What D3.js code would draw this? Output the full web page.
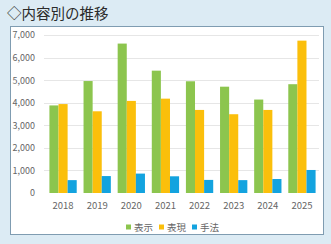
<!DOCTYPE html>
<html>
<head>
<meta charset="utf-8">
<script src="https://cdn.jsdelivr.net/npm/d3@7"></script>
<style>
  html, body { margin: 0; padding: 0; background: #dcebf4; }
  svg { display: block; }
</style>
</head>
<body>
<svg id="chart" width="331" height="244"></svg>
<script>
const years = ["2018", "2019", "2020", "2021", "2022", "2023", "2024", "2025"];
const seriesNames = ["表示", "表現", "手法"];
const hyouji = [3880, 4960, 6620, 5420, 4950, 4710, 4140, 4820];
const hyougen = [3940, 3620, 4080, 4180, 3680, 3490, 3680, 6750];
const shuhou = [570, 750, 860, 740, 580, 570, 620, 1020];
const yTicks = [0, 1000, 2000, 3000, 4000, 5000, 6000, 7000];
const colors = ["#8cc54e", "#fbbf0b", "#13a3df"];

const svg = d3.select("#chart");
const font = "'Noto Sans CJK JP', 'Noto Sans', sans-serif";

// title
svg.append("text")
  .attr("x", 7).attr("y", 19)
  .attr("font-family", font).attr("font-size", "14.5px").attr("font-weight", "normal")
  .attr("fill", "#2b2b2b")
  .text("◇内容別の推移");

// white panel
svg.append("rect")
  .attr("x", 10.5).attr("y", 26.5).attr("width", 313).attr("height", 208)
  .attr("fill", "#fff").attr("stroke", "#7f9cb1").attr("stroke-width", 1);

const x0 = d3.scaleBand().domain(years).range([46, 319]).paddingInner(0.2).paddingOuter(0.1);
const x1 = d3.scaleBand().domain(seriesNames).range([0, x0.bandwidth()]);
const y = d3.scaleLinear().domain([0, 7000]).range([193, 35]);

// grid
svg.append("g").selectAll("line").data(yTicks.slice(1)).join("line")
  .attr("x1", 44).attr("x2", 319)
  .attr("y1", d => Math.round(y(d)) + 0.5).attr("y2", d => Math.round(y(d)) + 0.5)
  .attr("stroke", "#e6e6e6");

// y axis
const yAxis = svg.append("g").attr("transform", "translate(38,0)")
  .call(d3.axisLeft(y).tickValues(yTicks).tickFormat(d3.format(",")).tickSize(0));
yAxis.select(".domain").remove();
yAxis.selectAll("text").attr("font-family", font).attr("font-size", "9px").attr("fill", "#666");

// x axis
const xAxis = svg.append("g").attr("transform", "translate(0,199)")
  .call(d3.axisBottom(x0).tickSize(0));
xAxis.select(".domain").remove();
xAxis.selectAll("text").attr("font-family", font).attr("font-size", "9.5px").attr("fill", "#666");

// bars
const table = years.map((yr, i) => ({ year: yr, values: [hyouji[i], hyougen[i], shuhou[i]] }));
const groups = svg.append("g").selectAll("g").data(table).join("g")
  .attr("transform", d => `translate(${x0(d.year)},0)`);
groups.selectAll("rect").data(d => d.values.map((v, k) => ({ name: seriesNames[k], v, k }))).join("rect")
  .attr("x", d => x1(d.name))
  .attr("width", x1.bandwidth())
  .attr("y", d => y(d.v))
  .attr("height", d => y(0) - y(d.v))
  .attr("fill", d => colors[d.k]);

// legend
const legend = svg.append("g").attr("transform", "translate(126,227)");
const legendX = [0, 33, 66];
seriesNames.forEach((name, k) => {
  const lg = legend.append("g").attr("transform", `translate(${legendX[k]},0)`);
  lg.append("rect").attr("x", 0).attr("y", -2.5).attr("width", 5).attr("height", 5).attr("fill", colors[k]);
  lg.append("text").attr("x", 8).attr("y", 3.5)
    .attr("font-family", font).attr("font-size", "9.5px").attr("fill", "#666")
    .text(name);
});
</script>
</body>
</html>
